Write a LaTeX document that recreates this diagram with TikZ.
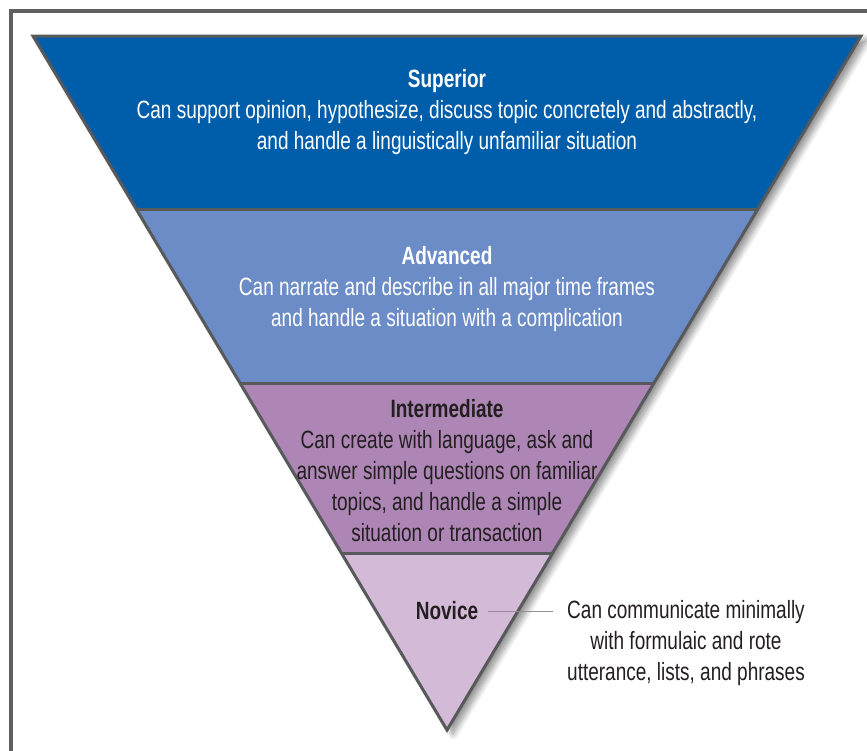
\documentclass[tikz,border=0pt]{standalone}
\usepackage{fontspec}
\setmainfont{Liberation Sans}[FakeStretch=0.76]
\usetikzlibrary{shadows.blur}

\definecolor{superiorblue}{RGB}{0,93,170}
\definecolor{advancedblue}{RGB}{107,140,199}
\definecolor{intermauve}{RGB}{174,134,181}
\definecolor{novicemauve}{RGB}{211,186,214}
\definecolor{bandline}{RGB}{88,89,91}
\definecolor{framegray}{RGB}{96,96,96}
\definecolor{textdark}{RGB}{35,31,32}

\begin{document}
\begin{tikzpicture}[x=1pt, y=-1pt,
  band/.style={line join=miter},
  level/.style={align=center, font=\fontsize{25}{31}\selectfont, inner sep=2pt},
  connector/.style={draw=framegray!70, line width=0.9pt}]

\useasboundingbox (0,0) rectangle (867,750);
\clip (0,0) rectangle (867,750);

% frame
\draw[framegray, line width=3.5pt] (11,11) rectangle (900,800);

% shadow of the pyramid
\path[fill=white, blur shadow={shadow xshift=6pt, shadow yshift=-4pt, shadow blur steps=10, shadow blur radius=6pt, shadow opacity=45}]
  (33,36) -- (861,36) -- (447,730) -- cycle;

% bands
\fill[band, superiorblue] (33,36) -- (861,36) -- (757.8,209) -- (136.2,209) -- cycle;
\fill[band, advancedblue] (136.2,209) -- (757.8,209) -- (654,383) -- (240,383) -- cycle;
\fill[band, intermauve]   (240,383) -- (654,383) -- (552.6,553) -- (341.4,553) -- cycle;
\fill[band, novicemauve]  (341.4,553) -- (552.6,553) -- (447,730) -- cycle;

% outlines
\draw[bandline, line width=3pt, line join=miter] (33,36) -- (861,36) -- (447,730) -- cycle;
\draw[bandline, line width=3pt] (136.2,209) -- (757.8,209);
\draw[bandline, line width=3pt] (240,383) -- (654,383);
\draw[bandline, line width=3pt] (341.4,553) -- (552.6,553);

% texts
\node[level, text=white] (superior) at (447,112)
  {\textbf{Superior}\\Can support opinion, hypothesize, discuss topic concretely and abstractly,\\and handle a linguistically unfamiliar situation};
\node[level, text=white] (advanced) at (447,289)
  {\textbf{Advanced}\\Can narrate and describe in all major time frames\\and handle a situation with a complication};
\node[level, text=textdark] (intermediate) at (447,471)
  {\textbf{Intermediate}\\Can create with language, ask and\\answer simple questions on familiar\\topics, and handle a simple\\situation or transaction};
\node[level, text=textdark] (novice) at (447,611) {\textbf{Novice}};
\node[level, text=textdark, anchor=north] (novicedesc) at (686,598)
  {Can communicate minimally\\with formulaic and rote\\utterance, lists, and phrases};

\draw[connector, shorten <=8pt, shorten >=12pt] (novice.east) -- (novice.east -| novicedesc.west);

\end{tikzpicture}
\end{document}
